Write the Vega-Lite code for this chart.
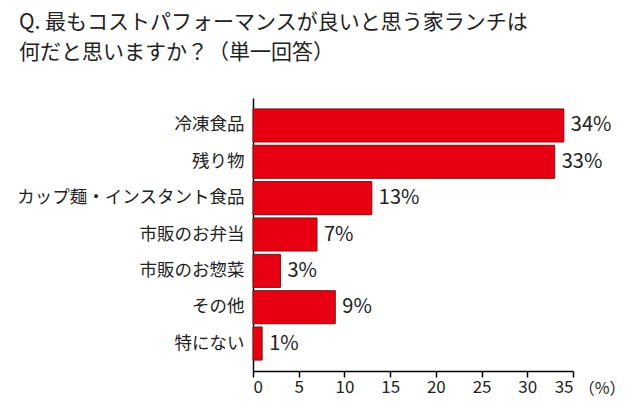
{
  "$schema": "https://vega.github.io/schema/vega-lite/v6.json",
  "width": 320,
  "height": 273,
  "autosize": {"type": "none"},
  "padding": {"left": 253, "top": 98, "right": 67, "bottom": 30},
  "background": "white",
  "title": {
    "text": ["Q. 最もコストパフォーマンスが良いと思う家ランチは", "何だと思いますか？（単一回答）"],
    "anchor": "start",
    "frame": "group",
    "dx": -234,
    "offset": 35,
    "font": "Noto Sans CJK JP",
    "fontSize": 21,
    "fontWeight": "normal",
    "color": "#222222",
    "lineHeight": 30
  },
  "data": {
    "values": [
      {"item": "冷凍食品", "pct": 34},
      {"item": "残り物", "pct": 33},
      {"item": "カップ麺・インスタント食品", "pct": 13},
      {"item": "市販のお弁当", "pct": 7},
      {"item": "市販のお惣菜", "pct": 3},
      {"item": "その他", "pct": 9},
      {"item": "特にない", "pct": 1}
    ]
  },
  "encoding": {
    "y": {
      "field": "item",
      "type": "nominal",
      "sort": null,
      "scale": {"paddingInner": 0.09, "paddingOuter": 0.3},
      "axis": {
        "title": null,
        "ticks": false,
        "domain": true,
        "domainColor": "#000000",
        "domainWidth": 1.5,
        "labelFont": "Noto Sans CJK JP",
        "labelFontSize": 17.5,
        "labelLimit": 300,
        "labelColor": "#222222",
        "labelPadding": 9
      }
    },
    "x": {
      "field": "pct",
      "type": "quantitative",
      "scale": {"domain": [0, 35], "nice": false},
      "axis": {
        "values": [0, 5, 10, 15, 20, 25, 30, 35],
        "grid": false,
        "domainColor": "#000000",
        "domainWidth": 1.5,
        "tickColor": "#000000",
        "tickWidth": 1.5,
        "tickSize": 6,
        "labelFont": "Noto Sans CJK JP",
        "labelFontSize": 17,
        "labelColor": "#222222",
        "labelPadding": 2,
        "title": "（%）",
        "titleFont": "Noto Sans CJK JP",
        "titleFontSize": 16,
        "titleFontWeight": "normal",
        "titleColor": "#222222",
        "titleAnchor": "end",
        "titleX": 372,
        "titleY": 17,
        "titleBaseline": "middle",
        "titleAngle": 0
      }
    }
  },
  "layer": [
    {
      "mark": {"type": "bar", "color": "#e60012", "stroke": "#7a1414", "strokeWidth": 1}
    },
    {
      "transform": [{"calculate": "datum.pct + '%'", "as": "label"}],
      "mark": {"type": "text", "align": "left", "baseline": "middle", "dx": 7, "font": "Noto Sans CJK JP", "fontSize": 20, "color": "#222222"},
      "encoding": {
        "text": {"field": "label", "type": "nominal"}
      }
    }
  ],
  "config": {"view": {"stroke": null}}
}
